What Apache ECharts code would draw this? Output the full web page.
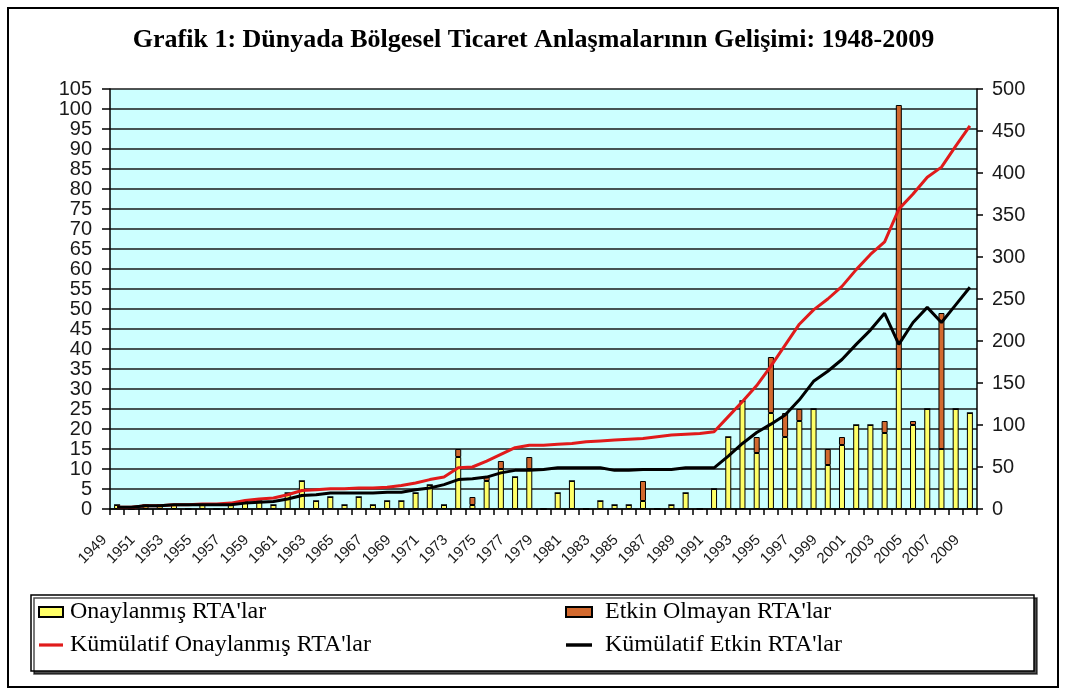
<!DOCTYPE html>
<html>
<head>
<meta charset="utf-8">
<title>Grafik 1</title>
<script src="https://cdn.jsdelivr.net/npm/echarts/dist/echarts.min.js"></script>
<style>
html, body { margin: 0; padding: 0; background: #fff; }
#chart { width: 1067px; height: 695px; }
</style>
</head>
<body>
<div id="chart"></div>
<script>
// yillar: 1949-2009
var yillar = ['1949','1950','1951','1952','1953','1954','1955','1956','1957','1958',
              '1959','1960','1961','1962','1963','1964','1965','1966','1967','1968',
              '1969','1970','1971','1972','1973','1974','1975','1976','1977','1978',
              '1979','1980','1981','1982','1983','1984','1985','1986','1987','1988',
              '1989','1990','1991','1992','1993','1994','1995','1996','1997','1998',
              '1999','2000','2001','2002','2003','2004','2005','2006','2007','2008','2009'];

// sol eksen (adet)
var onaylanmis = [1,0,1,1,1,0,1,0,1,2,
                  2,1,4,7,2,3,1,3,1,2,
                  2,4,6,1,13,1,7,10,8,10,
                  0,4,7,0,2,1,1,2,0,1,
                  4,0,5,18,27,14,24,18,22,25,
                  11,16,21,21,19,35,21,25,15,25,24];
var etkinOlmayan = [0,0,0,0,0,0,0,0,0,0,
                    0,0,0,0,0,0,0,0,0,0,
                    0,0,0,0,2,2,1,2,0,3,
                    0,0,0,0,0,0,0,5,0,0,
                    0,0,0,0,0,4,14,6,3,0,
                    4,2,0,0,3,66,1,0,34,0,0];

// sag eksen (kumulatif)
var kumulatifOnaylanmis = [2,2,4,4,5,5,6,6,7,10,
                           12,13,17,22,23,24,24,25,25,26,
                           28,31,35,38,49,50,57,65,73,76,
                           76,77,78,80,81,82,83,84,86,88,
                           89,90,92,110,128,147,170,195,220,237,
                           250,265,285,303,318,357,375,395,407,432,456];
var kumulatifEtkin = [2,2,4,4,5,5,5,5,5,7,
                      8,9,12,16,17,19,19,19,19,20,
                      20,23,25,29,35,36,38,43,46,46,
                      47,49,49,49,49,46,46,47,47,47,
                      49,49,49,63,78,91,101,112,130,152,
                      164,178,196,213,233,196,222,240,222,243,264];

var solMax = 105, solAdim = 5;
var sagMax = 500, sagAdim = 50;

var myChart = echarts.init(document.getElementById('chart'));

var eksenYazi = {
    fontFamily: 'Liberation Sans',
    color: '#1a1a1a'
};

var lejantYazi = {
    fontFamily: 'Liberation Serif',
    fontSize: 24,
    color: '#000',
    padding: [0, 0, 0, 2]
};

var option = {
    animation: false,
    backgroundColor: '#fff',
    title: {
        text: 'Grafik 1: Dünyada Bölgesel Ticaret Anlaşmalarının Gelişimi: 1948-2009',
        left: 'center',
        top: 22,
        textStyle: {
            fontFamily: 'Liberation Serif',
            fontWeight: 'bold',
            fontSize: 26,
            color: '#000'
        }
    },
    graphic: [
        {
            type: 'rect',
            z: 0,
            shape: { x: 8, y: 8, width: 1050, height: 679 },
            style: { fill: 'none', stroke: '#000', lineWidth: 2 }
        },
        {
            type: 'rect',
            z: 0,
            shape: { x: 31, y: 595, width: 1003, height: 76 },
            style: {
                fill: '#fff', stroke: '#000', lineWidth: 1.5,
                shadowColor: 'rgba(0,0,0,0.7)', shadowOffsetX: 3, shadowOffsetY: 3, shadowBlur: 0
            }
        }
    ],
    legend: [
        {
            left: 38,
            top: 600,
            orient: 'vertical',
            padding: 0,
            itemGap: 9,
            itemWidth: 24,
            itemHeight: 10,
            selectedMode: false,
            textStyle: lejantYazi,
            data: [
                { name: "Onaylanmış RTA'lar", icon: 'rect' },
                { name: "Kümülatif Onaylanmış RTA'lar", icon: 'path://M0,0H30V4H0Z' }
            ]
        },
        {
            left: 565,
            top: 600,
            orient: 'vertical',
            padding: 0,
            itemGap: 9,
            itemWidth: 26,
            itemHeight: 10,
            selectedMode: false,
            textStyle: Object.assign({}, lejantYazi, { padding: [0, 0, 0, 8] }),
            data: [
                { name: "Etkin Olmayan RTA'lar", icon: 'rect' },
                { name: "Kümülatif Etkin RTA'lar", icon: 'path://M0,0H30V4H0Z' }
            ]
        }
    ],
    grid: {
        left: 110,
        right: 90,
        top: 89,
        bottom: 186,
        containLabel: false,
        outerBoundsMode: 'none',
        show: true,
        backgroundColor: '#ccffff',
        borderWidth: 0
    },
    xAxis: {
        type: 'category',
        data: yillar,
        boundaryGap: true,
        axisLine: { lineStyle: { color: '#000', width: 1.5 } },
        axisTick: { show: true, interval: 0, length: 6, lineStyle: { color: '#000', width: 1.5 } },
        axisLabel: Object.assign({
            interval: 1,
            rotate: 45,
            fontSize: 15,
            margin: 16,
            padding: [0, 18, 0, 0]
        }, eksenYazi),
        splitLine: { show: false }
    },
    yAxis: [
        {
            type: 'value',
            min: 0,
            max: solMax,
            interval: solAdim,
            position: 'left',
            axisLine: { show: true, lineStyle: { color: '#000', width: 1.5 } },
            axisTick: { show: true, length: 8, lineStyle: { color: '#000', width: 1.5 } },
            axisLabel: Object.assign({ fontSize: 20, margin: 18 }, eksenYazi),
            splitLine: { show: true, lineStyle: { color: '#1a1a1a', width: 1.5 } }
        },
        {
            type: 'value',
            min: 0,
            max: sagMax,
            interval: sagAdim,
            position: 'right',
            axisLine: { show: true, lineStyle: { color: '#000', width: 1.5 } },
            axisTick: { show: true, length: 6, lineStyle: { color: '#000', width: 1.5 } },
            axisLabel: Object.assign({ fontSize: 20, margin: 15 }, eksenYazi),
            splitLine: { show: false }
        }
    ],
    series: [
        {
            name: "Onaylanmış RTA'lar",
            type: 'bar',
            stack: 'rta',
            yAxisIndex: 0,
            barWidth: 6,
            data: onaylanmis,
            itemStyle: { color: '#ffff66', borderColor: '#000', borderWidth: 1 }
        },
        {
            name: "Etkin Olmayan RTA'lar",
            type: 'bar',
            stack: 'rta',
            yAxisIndex: 0,
            barWidth: 6,
            data: etkinOlmayan,
            itemStyle: { color: '#d2692e', borderColor: '#000', borderWidth: 1 }
        },
        {
            name: "Kümülatif Onaylanmış RTA'lar",
            type: 'line',
            yAxisIndex: 1,
            data: kumulatifOnaylanmis,
            symbol: 'none',
            itemStyle: { color: '#e01b1b' },
            lineStyle: { color: '#e01b1b', width: 3 }
        },
        {
            name: "Kümülatif Etkin RTA'lar",
            type: 'line',
            yAxisIndex: 1,
            data: kumulatifEtkin,
            symbol: 'none',
            itemStyle: { color: '#000' },
            lineStyle: { color: '#000', width: 3 }
        }
    ]
};

myChart.setOption(option);
</script>
</body>
</html>
